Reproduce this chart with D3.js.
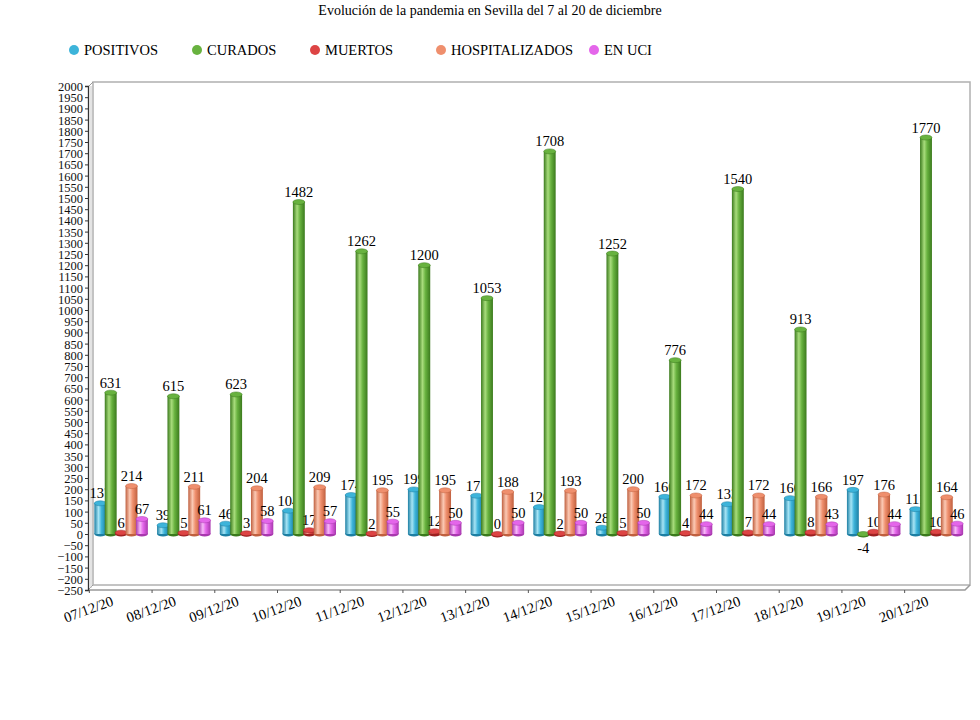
<!DOCTYPE html>
<html>
<head>
<meta charset="utf-8">
<script src="https://cdn.jsdelivr.net/npm/d3@7"></script>
<style>
  body { margin: 0; background: #fff; }
  svg, svg text { font-family: "Liberation Serif", "DejaVu Serif", serif; }
</style>
</head>
<body>
<svg id="chart" width="980" height="720"></svg>
<script>
var fechas = ["07/12/20", "08/12/20", "09/12/20", "10/12/20", "11/12/20", "12/12/20", "13/12/20",
              "14/12/20", "15/12/20", "16/12/20", "17/12/20", "18/12/20", "19/12/20", "20/12/20"];
var positivos = [137, 39, 46, 104, 174, 199, 171, 120, 28, 166, 133, 160, 197, 111];
var curados = [631, 615, 623, 1482, 1262, 1200, 1053, 1708, 1252, 776, 1540, 913, -4, 1770];
var muertos = [6, 5, 3, 17, 2, 12, 0, 2, 5, 4, 7, 8, 10, 10];
var hospitalizados = [214, 211, 204, 209, 195, 195, 188, 193, 200, 172, 172, 166, 176, 164];
var enUci = [67, 61, 58, 57, 55, 50, 50, 50, 50, 44, 44, 43, 44, 46];
var nombres = ["POSITIVOS", "CURADOS", "MUERTOS", "HOSPITALIZADOS", "EN UCI"];
var yTicks = d3.range(-250, 2001, 50);

var series = [positivos, curados, muertos, hospitalizados, enUci];
// colours: base, light (highlight), dark (edge)
var colores = [
  ["#3db4da", "#a6e4f5", "#1d7fa3"],
  ["#68b23f", "#a8dc7c", "#3b7a1d"],
  ["#dd4444", "#f59a90", "#9c2020"],
  ["#ef8f6d", "#fbc9b4", "#c0603f"],
  ["#e466ea", "#f7b8f8", "#a838ae"]
];

var svg = d3.select("#chart");

var y = d3.scaleLinear().domain([-250, 2000]).range([590, 86]);
var x = d3.scaleBand().domain(fechas).range([89, 967]).padding(0);
var xs = d3.scaleBand().domain(d3.range(5)).range([-26, 26]).padding(0);
var bw = xs.bandwidth() + 1.5;

// gradients for the cylinders
var defs = svg.append("defs");
colores.forEach(function (c, i) {
  var g = defs.append("linearGradient").attr("id", "cyl" + i)
    .attr("x1", "0%").attr("x2", "100%").attr("y1", "0%").attr("y2", "0%");
  g.append("stop").attr("offset", "0%").attr("stop-color", c[2]);
  g.append("stop").attr("offset", "35%").attr("stop-color", c[1]);
  g.append("stop").attr("offset", "60%").attr("stop-color", c[0]);
  g.append("stop").attr("offset", "100%").attr("stop-color", c[2]);
});

// title
svg.append("text").attr("x", 490).attr("y", 15).attr("text-anchor", "middle")
  .style("font-size", "14px").text("Evolución de la pandemia en Sevilla del 7 al 20 de diciembre");

// legend
var legX = [74, 197, 315, 441, 594];
nombres.forEach(function (n, i) {
  var lg = svg.append("g").attr("transform", "translate(" + legX[i] + ",50)");
  lg.append("circle").attr("r", 5).attr("fill", colores[i][0]);
  lg.append("text").attr("x", 10).attr("y", 5).style("font-size", "14.5px").text(n);
});

// 3D frame: back wall and floor
var left = 88, right = 965, off = 5;
svg.append("rect").attr("x", left + off).attr("y", 82)
  .attr("width", right - left).attr("height", y(-250) - off - 82)
  .attr("fill", "none").attr("stroke", "#b0b0b0").attr("stroke-width", 1.5);
svg.append("path")
  .attr("d", "M" + left + "," + (y(-250)) + "L" + right + "," + y(-250) +
        "L" + (right + off) + "," + (y(-250) - off))
  .attr("fill", "none").attr("stroke", "#999").attr("stroke-width", 1.5);
svg.append("line").attr("x1", left).attr("x2", left + off)
  .attr("y1", y(-250)).attr("y2", y(-250) - off).attr("stroke", "#999");
svg.append("line").attr("x1", left).attr("x2", left + off)
  .attr("y1", 87).attr("y2", 82).attr("stroke", "#999");
svg.append("line").attr("x1", left + 3).attr("x2", left + 3)
  .attr("y1", 86).attr("y2", y(-250) - 2).attr("stroke", "#c8c8c8");

// y axis
var yAxis = d3.axisLeft(y).tickValues(yTicks).tickSize(3).tickFormat(d3.format("d"));
var ya = svg.append("g").attr("transform", "translate(" + left + ",0)").call(yAxis)
  .attr("font-family", null).attr("font-size", null);
ya.select(".domain").attr("stroke", "#333").attr("stroke-width", 1.3);
ya.selectAll(".tick line").attr("stroke", "#333");
ya.selectAll("text").attr("x", -5).attr("dy", "0.36em").style("font-size", "12.5px").attr("fill", "#111");

// x axis labels
var xa = svg.append("g");
fechas.forEach(function (f) {
  var cx = x(f) + x.bandwidth() / 2;
  xa.append("line").attr("x1", cx - 31).attr("x2", cx - 31)
    .attr("y1", y(-250)).attr("y2", y(-250) + 3).attr("stroke", "#555");
  xa.append("text")
    .attr("transform", "translate(" + (cx - 6) + "," + (y(-250) + 15) + ") rotate(-20)")
    .attr("text-anchor", "end").style("font-size", "14.5px").text(f);
});

// bars
var plot = svg.append("g");
series.forEach(function (vals, si) {
  var sg = plot.append("g");
  vals.forEach(function (v, i) {
    var bx = x(fechas[i]) + x.bandwidth() / 2 + xs(si);
    var y0 = y(0), y1 = y(v);
    var top = Math.min(y0, y1), h = Math.max(Math.abs(y0 - y1), 1);
    sg.append("ellipse").attr("cx", bx + bw / 2).attr("cy", top + h)
      .attr("rx", bw / 2).attr("ry", 2.5).attr("fill", colores[si][2]);
    sg.append("rect").attr("x", bx).attr("y", top).attr("width", bw).attr("height", h)
      .attr("fill", "url(#cyl" + si + ")");
    sg.append("ellipse").attr("cx", bx + bw / 2).attr("cy", top)
      .attr("rx", bw / 2).attr("ry", 2.5).attr("fill", colores[si][0])
      .attr("stroke", colores[si][2]).attr("stroke-width", 0.5);
    sg.append("text").attr("x", bx + bw / 2)
      .attr("y", v < 0 ? y1 + 18 : y1 - 5)
      .attr("text-anchor", "middle").style("font-size", "14.5px").text(v);
  });
});
</script>
</body>
</html>
